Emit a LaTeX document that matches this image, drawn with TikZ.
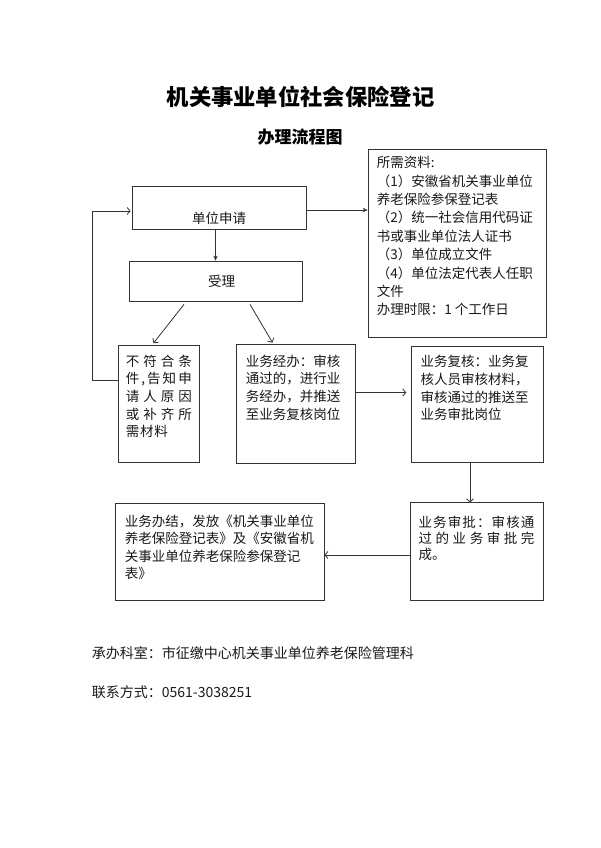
\documentclass[tikz,border=0pt]{standalone}
\usepackage{fontspec}
\newfontfamily\cjk{Noto Sans CJK SC}
\usetikzlibrary{arrows.meta}
\makeatletter
% spread one line of characters over a given width
\newcommand\jline[2]{\makebox[#1][s]{\@tfor\jc:=#2\do{\jc\hfil}\unskip}}
\makeatother
\tikzset{
    box/.style={draw=black!80, line width=0.8pt, rectangle, inner sep=0pt},
    txt/.style={font=\cjk\fontsize{13.5}{17.7}\selectfont, inner sep=0pt, text=black!90},
    para/.style={txt, anchor=north west, align=left},
    foot/.style={font=\cjk\fontsize{14}{16}\selectfont, inner sep=0pt, anchor=west, text=black!90},
    fwd/.style={draw=black!80, line width=0.8pt, -{Stealth[length=5pt,width=4.5pt]}},
    bwd/.style={draw=black!80, line width=0.8pt, -{Straight Barb[length=3pt,width=7pt]}}
}
\begin{document}
\begin{tikzpicture}[x=1pt,y=-1pt]
    \path[fill=white] (0,0) rectangle (600,848);
    \useasboundingbox (0,0) rectangle (600,848);

    % titles
    \node[font=\cjk\bfseries\fontsize{22.3}{26}\selectfont, inner sep=0pt] (title) at (300.5,96.7) {机关事业单位社会保险登记};
    \node[font=\cjk\bfseries\fontsize{17}{20}\selectfont, inner sep=0pt] (subtitle) at (300,136.7) {办理流程图};

    % boxes
    \node[box, minimum width=174pt, minimum height=43pt] (apply) at (219,207.5) {};
    \node[txt] at ([yshift=-10.5pt]apply.center) {单位申请};
    \node[box, minimum width=173pt, minimum height=40pt] (accept) at (215.5,281) {};
    \node[txt] at ([xshift=6pt]accept.center) {受理};
    \node[box, minimum width=178pt, minimum height=188pt] (docs) at (457,243) {};
    \node[para, font=\cjk\fontsize{13.5}{18.4}\selectfont] at ([xshift=9pt,yshift=-7.5pt]docs.north west)
        {所需资料:\\（1）安徽省机关事业单位\\养老保险参保登记表\\（2）统一社会信用代码证\\书或事业单位法人证书\\（3）单位成立文件\\（4）单位法定代表人任职\\文件\\办理时限：1 个工作日};
    \node[box, minimum width=81pt, minimum height=117pt] (reject) at (158.5,403.5) {};
    \node[para] at ([xshift=8pt,yshift=-10pt]reject.north west)
        {\jline{66pt}{不符合条}\\\jline{66pt}{件,告知申}\\\jline{66pt}{请人原因}\\\jline{66pt}{或补齐所}\\\jline{42pt}{需材料}};
    \node[box, minimum width=119pt, minimum height=119pt] (handle) at (295.5,403.5) {};
    \node[para] at ([xshift=10pt,yshift=-11pt]handle.north west)
        {业务经办：审核\\通过的，进行业\\务经办，并推送\\至业务复核岗位};
    \node[box, minimum width=131.6pt, minimum height=115.6pt] (review) at (477.5,404.5) {};
    \node[para] at ([xshift=9pt,yshift=-8.8pt]review.north west)
        {业务复核：业务复\\核人员审核材料，\\审核通过的推送至\\业务审批岗位};
    \node[box, minimum width=132.6pt, minimum height=97.3pt] (approve) at (477,551.4) {};
    \node[para, font=\cjk\fontsize{13.5}{16}\selectfont] at ([xshift=8pt,yshift=-13.5pt]approve.north west)
        {\jline{116pt}{业务审批：审核通}\\\jline{116pt}{过的业务审批完}\\成。};
    \node[box, minimum width=209pt, minimum height=96.7pt] (finish) at (219.5,551.7) {};
    \node[para, font=\cjk\fontsize{13.5}{17.5}\selectfont] at ([xshift=10pt,yshift=-11.5pt]finish.north west)
        {业务办结，发放《机关事业单位\\养老保险登记表》及《安徽省机\\关事业单位养老保险参保登记\\表》};

    % footer
    \node[foot] (office) at (91.7,653.3) {承办科室：市征缴中心机关事业单位养老保险管理科};
    \node[foot] (phone) at (91.7,691.7) {联系方式：0561-3038251};

    % connectors
    \coordinate (applyout) at ([yshift=-2.5pt]apply.east);
    \coordinate (applyin) at ([yshift=-3.5pt]apply.west);
    \coordinate (rejectout) at ([yshift=23.5pt]reject.west);
    \coordinate (loopx) at (92,300);
    \coordinate (handleout) at ([yshift=11pt]handle.east);
    \coordinate (reviewout) at ([xshift=-7.5pt]review.south);
    \coordinate (approveout) at ([yshift=-3.6pt]approve.west);
    \draw[fwd] (apply.south -| accept.north) -- (accept.north);
    \draw[fwd] (applyout) -- (applyout -| docs.west);
    \draw[bwd, shorten >=1pt] (rejectout) -- (rejectout -| loopx) |- (applyin);
    \draw[bwd] ([xshift=-31.5pt,yshift=-3pt]accept.south) -- ([xshift=-5pt,yshift=1.5pt]reject.north);
    \draw[bwd] ([xshift=34.5pt,yshift=-3pt]accept.south) -- ([xshift=-23pt,yshift=1pt]handle.north);
    \draw[bwd, shorten >=5pt] (handleout) -- (handleout -| review.west);
    \draw[bwd] (reviewout) -- (reviewout |- approve.north);
    \draw[bwd] (approveout) -- (approveout -| finish.east);
\end{tikzpicture}
\end{document}
